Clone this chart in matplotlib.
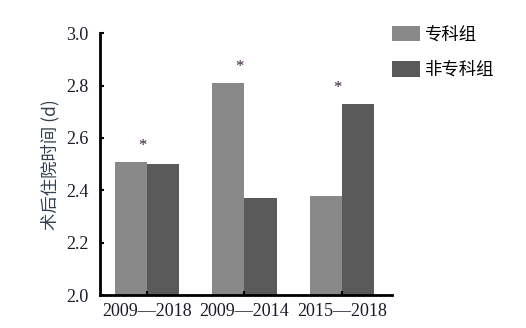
import matplotlib
matplotlib.use('Agg')
import matplotlib.pyplot as plt
import numpy as np

periods = ['2009—2018', '2009—2014', '2015—2018']
specialist = [2.51, 2.81, 2.38]
non_specialist = [2.50, 2.37, 2.73]
series_names = ['专科组', '非专科组']

cjk = ['Noto Sans CJK SC', 'DejaVu Sans']
serif = 'Liberation Serif'

fig = plt.figure(figsize=(5.26, 3.28), dpi=100)
ax = fig.add_axes([0.190, 0.1006, 0.555, 0.798])

x = np.arange(len(periods))
w = 0.33
b1 = ax.bar(x - w / 2, [v - 2.0 for v in specialist], w, bottom=2.0, color='#898989', label=series_names[0])
b2 = ax.bar(x + w / 2, [v - 2.0 for v in non_specialist], w, bottom=2.0, color='#5a5a5a', label=series_names[1])

# significance markers above each group
for i in range(len(periods)):
    top = max(specialist[i], non_specialist[i])
    ax.text(x[i] - 0.05, top + 0.03, '*', ha='center', va='bottom', fontsize=12,
            family=serif, color='#3a1f3f')

ax.set_xlim(-0.48, 2.51)
ax.set_ylim(2.0, 3.0)
ax.set_yticks([2.0, 2.2, 2.4, 2.6, 2.8, 3.0])
ax.set_yticklabels(['2.0', '2.2', '2.4', '2.6', '2.8', '3.0'])
ax.set_xticks(x)
ax.set_xticklabels(periods)
for lab in ax.get_xticklabels() + ax.get_yticklabels():
    lab.set_family(serif)
    lab.set_fontsize(13)
    lab.set_color('#1a1a2a')

ax.tick_params(axis='both', direction='in', length=3, width=1.5)
ax.tick_params(axis='y', pad=8)
ax.tick_params(axis='x', pad=6)
ax.spines['top'].set_visible(False)
ax.spines['right'].set_visible(False)
ax.spines['left'].set_linewidth(2)
ax.spines['bottom'].set_linewidth(2)

ax.set_ylabel('术后住院时间 (d)', family=cjk, fontsize=12.5, color='#2f3f4f', labelpad=5)

leg = fig.legend(handles=[b1, b2], labels=series_names, loc='upper left',
                 bbox_to_anchor=(0.716, 0.97), frameon=False, prop={'family': cjk, 'size': 12.5},
                 handlelength=1.6, handleheight=1.0, labelspacing=1.0, handletextpad=0.25)

fig.savefig('out.png', dpi=100)
